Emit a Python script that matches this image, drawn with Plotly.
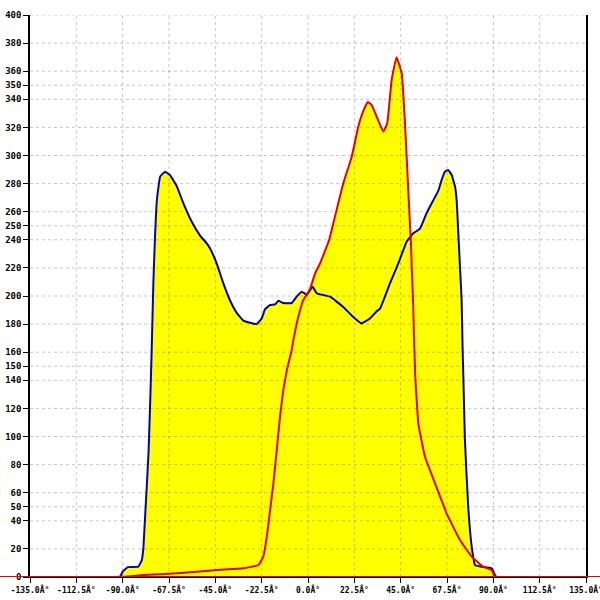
import plotly.graph_objects as go

# Blue series (angle in degrees, value)
blue_x = [-91.3, -89.9, -87.5, -82.4, -80.7, -79.9, -79.1, -78.2, -77.4, -76.6, -75.9, -75.1, -74.3, -73.4,
          -71.8, -69.4, -67.0, -63.7, -60.5, -56.5, -52.4, -49.2, -47.6, -44.3, -41.1, -37.9, -34.6,
          -31.4, -28.2, -24.9, -22.5, -20.9, -18.4, -16.0, -14.4, -12.0, -7.9, -5.5, -3.1, -0.6,
          2.3, 4.2, 7.4, 10.7, 13.9, 18.0, 22.0, 26.0, 30.1, 33.3, 35.0, 39.8, 43.8, 47.9,
          51.1, 54.4, 57.6, 60.8, 63.3, 64.9, 66.5, 68.1, 69.8, 71.4, 72.2, 73.0, 73.8, 74.6, 75.1,
          75.4, 76.2, 77.8, 79.5, 81.1, 84.3, 89.2, 90.8, 91.3]
blue_y = [0, 4, 7, 7.3, 12, 21.6, 43, 67, 90, 126, 162, 209, 242, 268,
          285, 288.5, 286, 278, 266, 253, 243, 237.5, 234, 223, 209, 197, 188,
          182.5, 181, 180, 184, 190.5, 193.6, 194, 196.6, 195, 195, 199.5, 203, 201,
          206.6, 202, 200.7, 199.5, 196, 191, 185, 180.5, 184, 189, 191, 209, 223, 238.7,
          244.6, 248, 259, 268, 275, 282.6, 288.5, 289.7, 286, 278, 268, 244.6, 221, 197, 161.6,
          145, 97.5, 50, 21.6, 8.5, 7.3, 6.2, 1.4, 0]

# Red series
red_x = [-135, -89.7, -80.0, -63.7, -44.3, -31.4, -24.1, -21.7, -20.0, -18.4, -16.8, -15.2, -13.6, -12.0,
         -10.3, -7.9, -7.1, -4.7, -2.3, 1.0, 3.4, 5.8, 10.3, 13.1, 17.1, 21.2, 24.4, 26.9, 29.0,
         30.9, 34.1, 36.6, 38.5, 40.6, 43.0, 45.5, 47.1, 48.7, 49.9, 51.1, 52.0, 53.6, 56.8,
         61.7, 67.3, 73.8, 79.5, 85.1, 89.2, 90.8, 135]
red_y = [0, 0.2, 1.4, 2.6, 5, 6.2, 8.5, 14.5, 28.7, 47.7, 66.7, 90, 114, 133,
         147, 161.6, 168.7, 185, 197, 205, 216, 223, 240, 256.5, 280, 299, 320.5, 332, 338,
         336, 325, 317, 323, 353.7, 370, 358.5, 323, 275, 240, 192, 145, 109, 85.6,
         66.7, 45.3, 26.3, 14.5, 7.3, 5, 0.2, 0]

x_ticks = [-135 + 22.5 * i for i in range(13)]
x_labels = [f"{v:.1f}Â°" for v in x_ticks]
y_ticks = [0, 20, 40, 50, 60, 80, 100, 120, 140, 150, 160, 180, 200, 220, 240, 250,
           260, 280, 300, 320, 340, 350, 360, 380, 400]

YELLOW = "#FFFF00"
BLUE = "#0000C8"
RED = "#E80000"
LINE_SHAPE = dict(shape="spline", smoothing=0.3)

fig = go.Figure()
fig.add_trace(go.Scatter(x=blue_x, y=blue_y, mode="lines", fill="tozeroy", fillcolor=YELLOW,
                         line=dict(width=0, **LINE_SHAPE), hoverinfo="skip"))
fig.add_trace(go.Scatter(x=red_x, y=red_y, mode="lines", fill="tozeroy", fillcolor=YELLOW,
                         line=dict(width=0, **LINE_SHAPE), hoverinfo="skip"))
fig.add_trace(go.Scatter(x=blue_x, y=blue_y, mode="lines",
                         line=dict(width=2, color=BLUE, **LINE_SHAPE)))
fig.add_trace(go.Scatter(x=red_x, y=red_y, mode="lines",
                         line=dict(width=2, color=RED, **LINE_SHAPE)))

grid_color = "rgba(0,0,0,0.22)"
for v in x_ticks[1:-1]:
    fig.add_shape(type="line", xref="x", yref="paper", x0=v, x1=v, y0=0, y1=1,
                  line=dict(color=grid_color, width=1, dash="3px,3px"), layer="above")
for v in y_ticks[1:]:
    fig.add_shape(type="line", xref="paper", yref="y", x0=0, x1=1, y0=v, y1=v,
                  line=dict(color=grid_color, width=1, dash="3px,3px"), layer="above")

# red baseline extending beyond plot
fig.add_shape(type="line", xref="paper", yref="y", x0=-30 / 556, x1=570 / 556, y0=0, y1=0,
              line=dict(color=RED, width=2), layer="above")

x_font = dict(family="DejaVu Sans Mono", size=8, color="black", weight="bold")
y_font = dict(family="DejaVu Sans Mono", size=9, color="black", weight="bold")
fig.update_layout(
    width=600, height=600,
    margin=dict(l=30, r=14, t=15, b=23, autoexpand=False),
    paper_bgcolor="white", plot_bgcolor="white",
    showlegend=False,
    xaxis=dict(range=[-135, 135], tickvals=x_ticks, ticktext=x_labels, showgrid=False,
               zeroline=False, showline=True, linecolor="black", linewidth=1,
               ticks="outside", ticklen=5, tickcolor="black", tickfont=x_font,
               automargin=False, ticklabeloverflow="allow"),
    yaxis=dict(range=[0, 400], tickvals=y_ticks, showgrid=False, zeroline=False,
               showline=True, linecolor="black", linewidth=1.5, mirror=True,
               ticks="outside", ticklen=5, tickcolor="black", tickfont=y_font,
               automargin=False, ticklabeloverflow="allow"),
)
fig.write_html("out.html", config={"displayModeBar": False},
               post_script="document.body.style.margin='0';")
